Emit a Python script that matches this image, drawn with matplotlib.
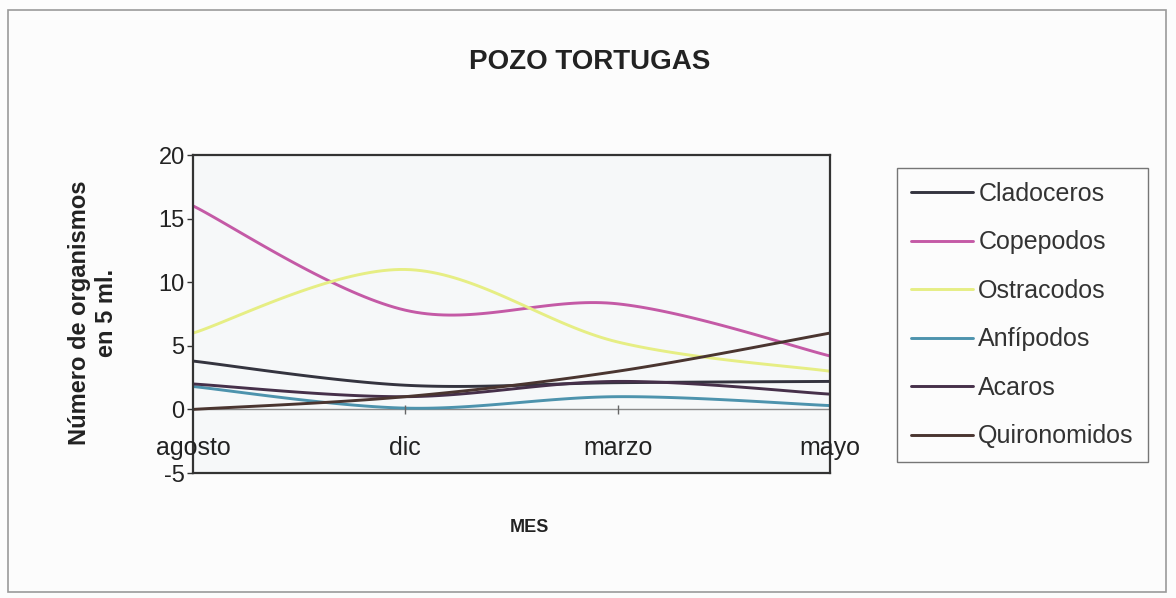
import numpy as np
import matplotlib
matplotlib.use("Agg")
import matplotlib.pyplot as plt
from matplotlib.patches import Rectangle

plt.rcParams['font.family'] = ['Liberation Sans', 'DejaVu Sans']

# ---- data ----
months = ["agosto", "dic", "marzo", "mayo"]
series_names = ["Cladoceros", "Copepodos", "Ostracodos", "Anfípodos", "Acaros", "Quironomidos"]
cladoceros = [3.8, 1.9, 2.1, 2.2]
copepodos = [16.0, 7.8, 8.3, 4.2]
ostracodos = [6.0, 11.0, 5.3, 3.0]
anfipodos = [1.8, 0.1, 1.0, 0.3]
acaros = [2.0, 1.0, 2.2, 1.2]
quironomidos = [0.0, 1.0, 3.0, 6.0]
yticks = [-5, 0, 5, 10, 15, 20]

series_values = [cladoceros, copepodos, ostracodos, anfipodos, acaros, quironomidos]
colors = ["#34343f", "#c45aa6", "#e6ee84", "#4d93ad", "#46304a", "#4a3530"]


def smooth(xs, ys, n=40):
    """Catmull-Rom smoothing (as spreadsheet 'smoothed line')."""
    xs = np.asarray(xs, float)
    ys = np.asarray(ys, float)
    px = np.concatenate([[xs[0]], xs, [xs[-1]]])
    py = np.concatenate([[ys[0]], ys, [ys[-1]]])
    ox, oy = [], []
    for i in range(1, len(px) - 2):
        p0x, p1x, p2x, p3x = px[i - 1], px[i], px[i + 1], px[i + 2]
        p0y, p1y, p2y, p3y = py[i - 1], py[i], py[i + 1], py[i + 2]
        c1x, c1y = p1x + (p2x - p0x) / 6, p1y + (p2y - p0y) / 6
        c2x, c2y = p2x - (p3x - p1x) / 6, p2y - (p3y - p1y) / 6
        t = np.linspace(0, 1, n)
        bx = (1 - t) ** 3 * p1x + 3 * (1 - t) ** 2 * t * c1x + 3 * (1 - t) * t ** 2 * c2x + t ** 3 * p2x
        by = (1 - t) ** 3 * p1y + 3 * (1 - t) ** 2 * t * c1y + 3 * (1 - t) * t ** 2 * c2y + t ** 3 * p2y
        ox.extend(bx)
        oy.extend(by)
    return np.array(ox), np.array(oy)


fig = plt.figure(figsize=(11.76, 5.98), dpi=100)
fig.patch.set_facecolor("#fcfcfc")

# outer chart border
fig.add_artist(Rectangle((8 / 1176, 1 - 592 / 598), 1158 / 1176, 582 / 598,
                         transform=fig.transFigure, fill=False,
                         edgecolor="#9a9a9a", linewidth=1.2))

ax = fig.add_axes([193 / 1176, 1 - 473 / 598, (830 - 193) / 1176, (473 - 155) / 598])
ax.set_facecolor("#f6f8f9")

x = np.arange(len(months))
handles = []
for name, vals, c in zip(series_names, series_values, colors):
    sx, sy = smooth(x, vals)
    h, = ax.plot(sx, sy, color=c, linewidth=2.1, solid_capstyle="round", label=name)
    handles.append(h)

ax.set_xlim(x[0], x[-1])
ax.set_ylim(yticks[0], yticks[-1])
ax.set_yticks(yticks)
ax.set_yticklabels([str(v) for v in yticks], fontsize=17, color="#222222")
ax.tick_params(axis="y", direction="out", length=4, width=1, pad=2, colors="#333333")
for lbl in ax.get_yticklabels():
    lbl.set_color("#222222")
ax.set_xticks([])

for sp in ax.spines.values():
    sp.set_color("#333333")
    sp.set_linewidth(1.6)

# category axis crossing at zero
ax.axhline(0, color="#8a8a8a", linewidth=1.0, zorder=0.5)
ax.vlines(x[1:-1], -0.35, 0.35, color="#666666", linewidth=1.0)
for xi, m in zip(x, months):
    ax.text(xi, -3.0, m, ha="center", va="center", fontsize=18, color="#222222")

fig.text(590 / 1176, 1 - 62 / 598, "POZO TORTUGAS", ha="center", va="center",
         fontsize=20, fontweight="bold", color="#222222")
fig.text(93 / 1176, 1 - 313 / 598, "Número de organismos\nen 5 ml.", ha="center",
         va="center", rotation=90, fontsize=17, fontweight="bold", color="#222222",
         linespacing=1.2)
fig.text(529 / 1176, 1 - 527 / 598, "MES", ha="center", va="center",
         fontsize=13, fontweight="bold", color="#222222")

leg = fig.legend(handles=handles, labels=series_names, loc="upper left",
                 bbox_to_anchor=(897 / 1176, 1 - 168 / 598), frameon=True,
                 fancybox=False, fontsize=18, handlelength=2.5, handletextpad=0.2,
                 labelspacing=0.98, borderpad=0.55, borderaxespad=0)
leg.get_frame().set_edgecolor("#555555")
leg.get_frame().set_linewidth(1.0)
leg.get_frame().set_facecolor("#fdfdfd")
for t in leg.get_texts():
    t.set_color("#333333")

fig.savefig("out.png", dpi=100, facecolor=fig.get_facecolor())
